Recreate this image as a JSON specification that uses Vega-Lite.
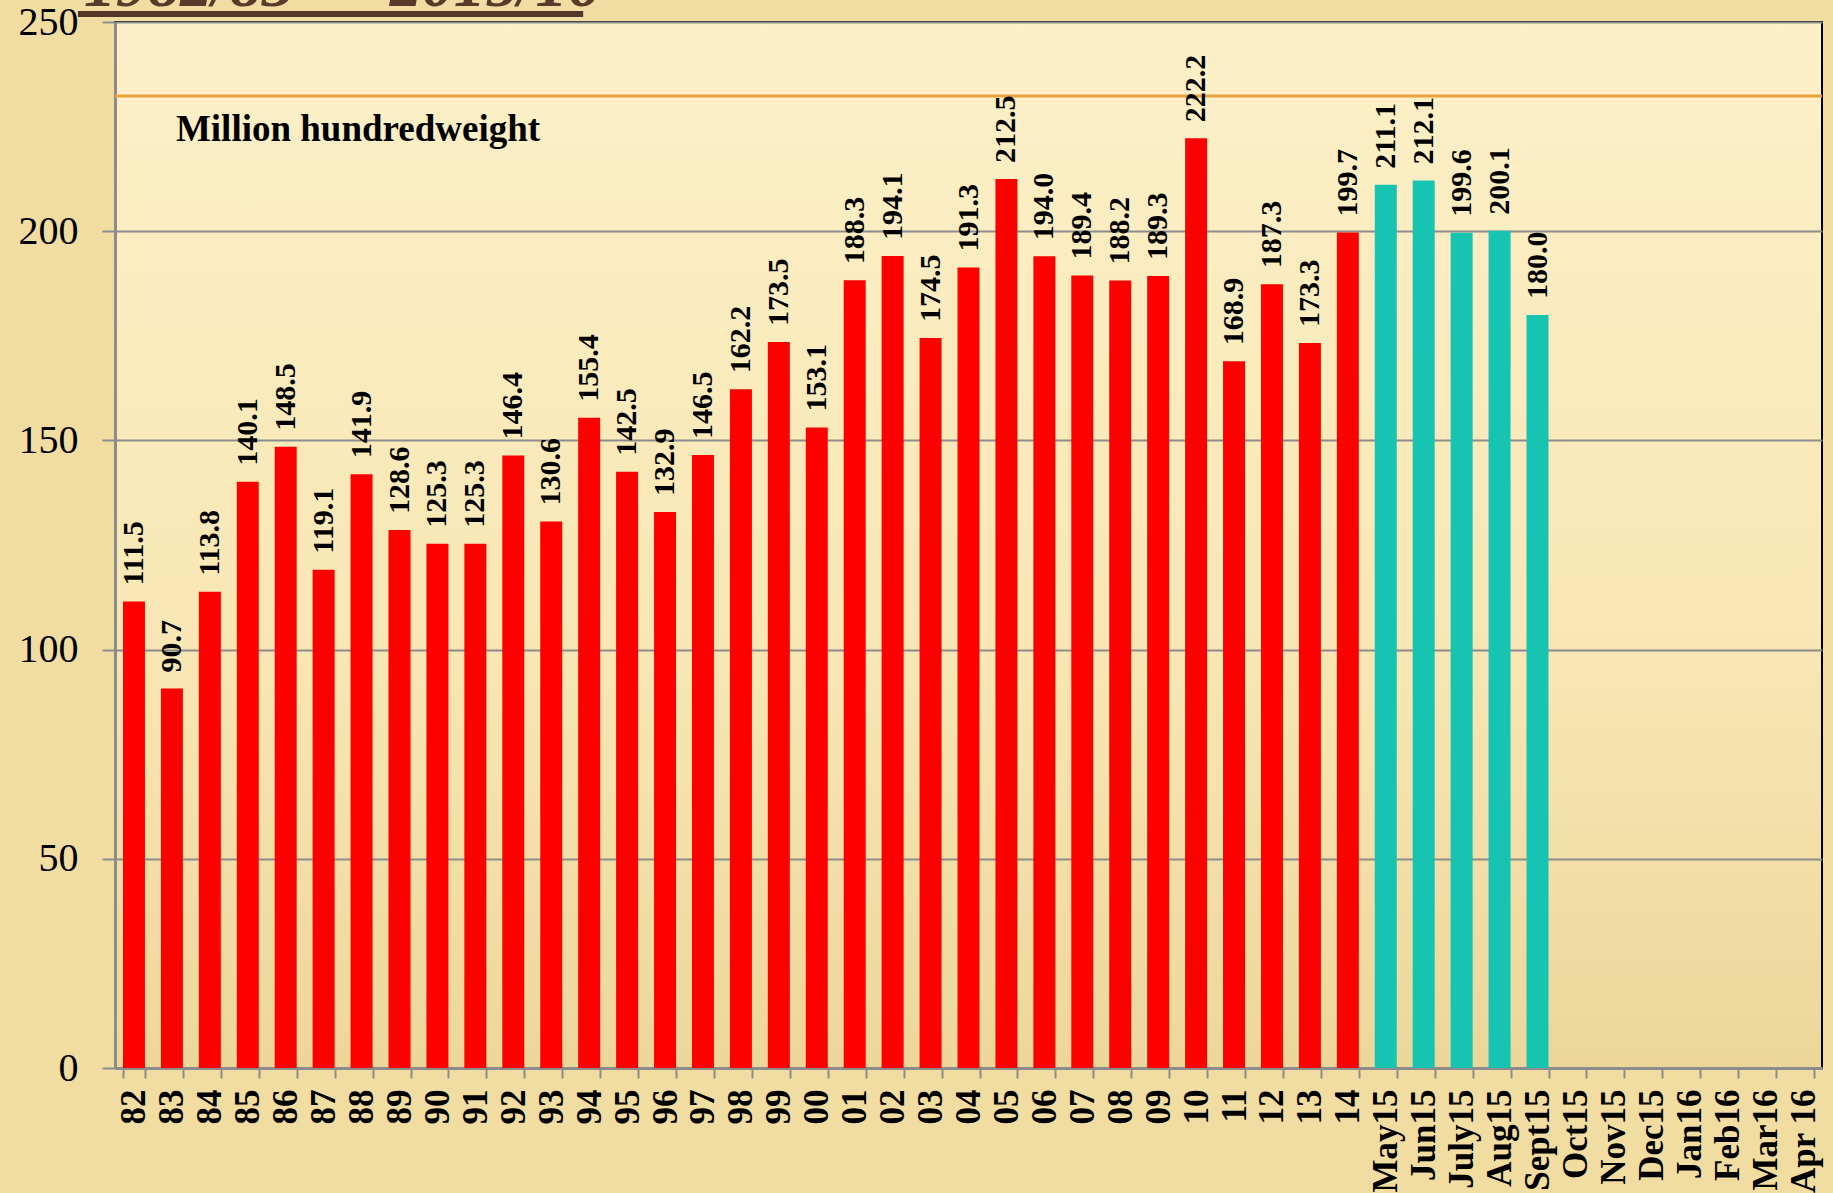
{
  "$schema": "https://vega.github.io/schema/vega-lite/v6.json",
  "width": 1707,
  "height": 1046,
  "autosize": {"type": "none"},
  "padding": {"left": 115, "top": 22, "right": 11, "bottom": 125},
  "background": "#f1dda2",
  "config": {
    "view": {
      "fill": {"gradient": "linear", "x1": 0, "y1": 0, "x2": 0, "y2": 1,
        "stops": [{"offset": 0, "color": "#fdf0c8"}, {"offset": 0.6, "color": "#f8e7b4"}, {"offset": 1, "color": "#ecd69a"}]},
      "stroke": "#000000",
      "strokeWidth": 2
    }
  },
  "datasets": {
    "bars": [
      {"period": "82", "value": 111.5, "kind": "annual"},
      {"period": "83", "value": 90.7, "kind": "annual"},
      {"period": "84", "value": 113.8, "kind": "annual"},
      {"period": "85", "value": 140.1, "kind": "annual"},
      {"period": "86", "value": 148.5, "kind": "annual"},
      {"period": "87", "value": 119.1, "kind": "annual"},
      {"period": "88", "value": 141.9, "kind": "annual"},
      {"period": "89", "value": 128.6, "kind": "annual"},
      {"period": "90", "value": 125.3, "kind": "annual"},
      {"period": "91", "value": 125.3, "kind": "annual"},
      {"period": "92", "value": 146.4, "kind": "annual"},
      {"period": "93", "value": 130.6, "kind": "annual"},
      {"period": "94", "value": 155.4, "kind": "annual"},
      {"period": "95", "value": 142.5, "kind": "annual"},
      {"period": "96", "value": 132.9, "kind": "annual"},
      {"period": "97", "value": 146.5, "kind": "annual"},
      {"period": "98", "value": 162.2, "kind": "annual"},
      {"period": "99", "value": 173.5, "kind": "annual"},
      {"period": "00", "value": 153.1, "kind": "annual"},
      {"period": "01", "value": 188.3, "kind": "annual"},
      {"period": "02", "value": 194.1, "kind": "annual"},
      {"period": "03", "value": 174.5, "kind": "annual"},
      {"period": "04", "value": 191.3, "kind": "annual"},
      {"period": "05", "value": 212.5, "kind": "annual"},
      {"period": "06", "value": 194.0, "kind": "annual"},
      {"period": "07", "value": 189.4, "kind": "annual"},
      {"period": "08", "value": 188.2, "kind": "annual"},
      {"period": "09", "value": 189.3, "kind": "annual"},
      {"period": "10", "value": 222.2, "kind": "annual"},
      {"period": "11", "value": 168.9, "kind": "annual"},
      {"period": "12", "value": 187.3, "kind": "annual"},
      {"period": "13", "value": 173.3, "kind": "annual"},
      {"period": "14", "value": 199.7, "kind": "annual"},
      {"period": "May15", "value": 211.1, "kind": "monthly"},
      {"period": "Jun15", "value": 212.1, "kind": "monthly"},
      {"period": "July15", "value": 199.6, "kind": "monthly"},
      {"period": "Aug15", "value": 200.1, "kind": "monthly"},
      {"period": "Sept15", "value": 180.0, "kind": "monthly"},
      {"period": "Oct15", "value": null, "kind": "monthly"},
      {"period": "Nov15", "value": null, "kind": "monthly"},
      {"period": "Dec15", "value": null, "kind": "monthly"},
      {"period": "Jan16", "value": null, "kind": "monthly"},
      {"period": "Feb16", "value": null, "kind": "monthly"},
      {"period": "Mar16", "value": null, "kind": "monthly"},
      {"period": "Apr 16", "value": null, "kind": "monthly"}
    ],
    "one": [{"note": "annotation"}]
  },
  "layer": [
    {
      "data": {"name": "one"},
      "mark": {"type": "rule", "color": "#e9a43c", "strokeWidth": 3},
      "encoding": {"y": {"datum": 232.3, "type": "quantitative"}}
    },
    {
      "data": {"name": "bars"},
      "mark": {"type": "bar"},
      "encoding": {
        "x": {
          "field": "period", "type": "nominal",
          "scale": {
            "domain": ["82","83","84","85","86","87","88","89","90","91","92","93","94","95","96","97","98","99","00","01","02","03","04","05","06","07","08","09","10","11","12","13","14","May15","Jun15","July15","Aug15","Sept15","Oct15","Nov15","Dec15","Jan16","Feb16","Mar16","Apr 16"],
            "paddingInner": 0.42, "paddingOuter": 0.21
          },
          "axis": {
            "title": null,
            "tickBand": "extent",
            "labelAngle": -90,
            "labelFont": "Liberation Serif",
            "labelFontWeight": "bold",
            "labelFontSize": 35,
            "labelColor": "#000000",
            "labelPadding": 11,
            "labelOverlap": false,
            "labelBound": false,
            "domainColor": "#8c8c8c",
            "domainWidth": 3,
            "tickColor": "#8c8c8c",
            "tickWidth": 2,
            "tickSize": 10,
            "grid": false
          }
        },
        "y": {
          "field": "value", "type": "quantitative",
          "scale": {"domain": [0, 250], "nice": false},
          "axis": {
            "title": null,
            "values": [0, 50, 100, 150, 200, 250],
            "labelFont": "Liberation Serif",
            "labelFontSize": 40,
            "labelColor": "#000000",
            "labelPadding": 24,
            "domainColor": "#8c8c8c",
            "domainWidth": 3,
            "tickColor": "#8c8c8c",
            "tickWidth": 2,
            "tickSize": 13,
            "grid": true,
            "gridColor": "#8c8c8c",
            "gridWidth": 2
          }
        },
        "color": {
          "field": "kind", "type": "nominal",
          "scale": {"domain": ["annual", "monthly"], "range": ["#ff0000", "#17c3b1"]},
          "legend": null
        }
      }
    },
    {
      "data": {"name": "bars"},
      "transform": [{"filter": "datum.value != null"}],
      "mark": {"type": "text", "angle": 270, "align": "left", "baseline": "middle", "dx": 16,
        "font": "Liberation Serif", "fontWeight": "bold", "fontSize": 30, "color": "#000000"},
      "encoding": {
        "x": {"field": "period", "type": "nominal"},
        "y": {"field": "value", "type": "quantitative"},
        "text": {"field": "value", "type": "quantitative", "format": ".1f"}
      }
    },
    {
      "data": {"name": "one"},
      "mark": {"type": "text", "align": "left", "baseline": "middle", "dx": 4,
        "font": "Liberation Serif", "fontWeight": "bold", "fontSize": 37, "color": "#000000"},
      "encoding": {
        "x": {"datum": "83", "type": "nominal"},
        "y": {"datum": 224.2, "type": "quantitative"},
        "text": {"value": "Million hundredweight"}
      }
    },
    {
      "data": {"name": "one"},
      "mark": {"type": "text", "align": "left", "baseline": "alphabetic", "dx": -50,
        "font": "Liberation Serif", "fontStyle": "italic", "fontWeight": "bold", "fontSize": 64, "color": "#5a3a2a"},
      "encoding": {
        "x": {"datum": "82", "type": "nominal"},
        "y": {"datum": 253.9, "type": "quantitative"},
        "text": {"value": "1982/83 — 2015/16"}
      }
    },
    {
      "data": {"name": "one"},
      "mark": {"type": "rule", "color": "#553528", "strokeWidth": 6, "xOffset": -56, "x2Offset": -6},
      "encoding": {
        "x": {"datum": "82", "type": "nominal"},
        "x2": {"datum": "94"},
        "y": {"datum": 251.9, "type": "quantitative"}
      }
    }
  ]
}
